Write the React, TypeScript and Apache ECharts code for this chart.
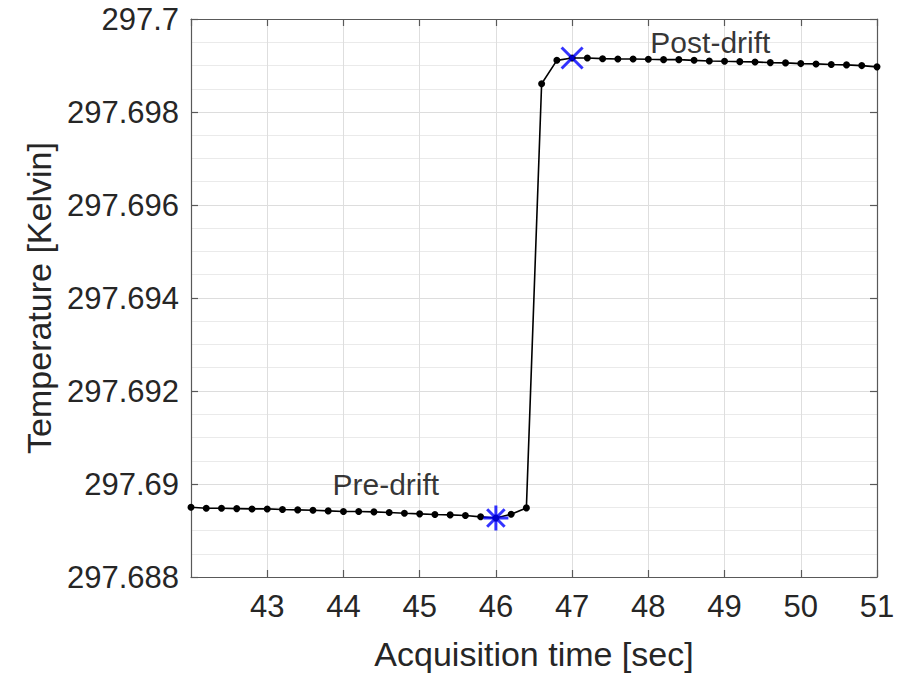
import React, { useEffect, useRef } from "react";
import * as echarts from "echarts";

// Acquisition time samples [sec]
const timeSec = [
  42.0, 42.2, 42.4, 42.6, 42.8, 43.0, 43.2, 43.4, 43.6, 43.8,
  44.0, 44.2, 44.4, 44.6, 44.8, 45.0, 45.2, 45.4, 45.6, 45.8,
  46.0, 46.2, 46.4, 46.6, 46.8, 47.0, 47.2, 47.4, 47.6, 47.8,
  48.0, 48.2, 48.4, 48.6, 48.8, 49.0, 49.2, 49.4, 49.6, 49.8,
  50.0, 50.2, 50.4, 50.6, 50.8, 51.0,
];

// Temperature readings [Kelvin]
const temperatureK = [
  297.689499, 297.689477, 297.689477, 297.689471, 297.689464, 297.689464, 297.68945, 297.689443, 297.689434, 297.689422,
  297.689407, 297.689407, 297.6894, 297.689386, 297.689371, 297.689358, 297.689343, 297.689336, 297.689322, 297.689294,
  297.689268, 297.68935, 297.689486, 297.698608, 297.699111, 297.699162, 297.699162, 297.699147, 297.699141, 297.699141,
  297.699133, 297.699126, 297.699126, 297.699111, 297.699098, 297.69909, 297.699083, 297.699077, 297.699062, 297.699056,
  297.699041, 297.699034, 297.69902, 297.699013, 297.698998, 297.698971,
];

// Indices of the highlighted samples
const preDriftIndex = 20;
const postDriftIndex = 25;

// Text annotations (data coordinates, left-aligned, vertically centred)
const annotationTexts = ["Pre-drift", "Post-drift"];
const annotationX = [43.85, 48.02];
const annotationY = [297.69, 297.6995];

const FONT = "'Liberation Sans', Arial, Helvetica, sans-serif";
const TEXT = "#262626";
const AXIS = "#595959";

const ASTERISK = "path://M10,0L10,20M0,10L20,10M3,3L17,17M3,17L17,3";
const CROSS = "path://M0,0L20,20M0,20L20,0";

export default function App() {
  const ref = useRef<HTMLDivElement>(null);

  useEffect(() => {
    if (!ref.current) return;
    const chart = echarts.init(ref.current, undefined, { renderer: "svg" });

    const lineData = timeSec.map((t, i) => [t, temperatureK[i]]);

    const xBase = {
      type: "value" as const,
      min: 42,
      max: 51,
      interval: 1,
      axisLine: { show: true, onZero: false, lineStyle: { color: AXIS, width: 1.2 } },
      axisTick: { show: true, inside: true, length: 7, lineStyle: { color: AXIS, width: 1.2 } },
    };
    const yBase = {
      type: "value" as const,
      min: 297.688,
      max: 297.7,
      interval: 0.002,
      axisLine: { show: true, onZero: false, lineStyle: { color: AXIS, width: 1.2 } },
      axisTick: { show: true, inside: true, length: 7, lineStyle: { color: AXIS, width: 1.2 } },
    };

    chart.setOption({
      animation: false,
      backgroundColor: "#ffffff",
      grid: { left: 191, right: 28, top: 19, bottom: 94, containLabel: false },
      xAxis: [
        {
          ...xBase,
          position: "bottom",
          name: "Acquisition time [sec]",
          nameLocation: "middle",
          nameGap: 60,
          nameTextStyle: { fontFamily: FONT, fontSize: 34, color: TEXT },
          axisLabel: {
            show: true,
            showMinLabel: false,
            margin: 14,
            fontFamily: FONT,
            fontSize: 31,
            color: TEXT,
          },
          splitLine: { show: true, lineStyle: { color: "#dedede", width: 1 } },
        },
        {
          ...xBase,
          position: "top",
          axisLabel: { show: false },
          splitLine: { show: false },
        },
      ],
      yAxis: [
        {
          ...yBase,
          position: "left",
          name: "Temperature [Kelvin]",
          nameLocation: "middle",
          nameGap: 132,
          nameTextStyle: { fontFamily: FONT, fontSize: 34, color: TEXT },
          axisLabel: {
            show: true,
            margin: 12,
            fontFamily: FONT,
            fontSize: 31,
            color: TEXT,
            formatter: (v: number) => String(parseFloat(v.toFixed(3))),
          },
          splitLine: { show: true, lineStyle: { color: "#dddddd", width: 1 } },
          minorTick: { show: false, splitNumber: 4 },
          minorSplitLine: { show: true, lineStyle: { color: "#eaeaea", width: 1 } },
        },
        {
          ...yBase,
          position: "right",
          axisLabel: { show: false },
          splitLine: { show: false },
        },
      ],
      series: [
        {
          type: "line",
          data: lineData,
          xAxisIndex: 0,
          yAxisIndex: 0,
          symbol: "circle",
          symbolSize: 7,
          showSymbol: true,
          lineStyle: { color: "#000000", width: 1.6 },
          itemStyle: { color: "#000000" },
          z: 3,
        },
        {
          type: "scatter",
          data: [[timeSec[preDriftIndex], temperatureK[preDriftIndex]]],
          symbol: ASTERISK,
          symbolSize: 25,
          itemStyle: { color: "transparent", borderColor: "#0000ff", borderWidth: 3 },
          z: 4,
        },
        {
          type: "scatter",
          data: [[timeSec[postDriftIndex], temperatureK[postDriftIndex]]],
          symbol: CROSS,
          symbolSize: 21,
          itemStyle: { color: "transparent", borderColor: "#0000ff", borderWidth: 3 },
          z: 4,
        },
        {
          type: "scatter",
          data: annotationTexts.map((t, i) => ({ value: [annotationX[i], annotationY[i]], name: t })),
          symbolSize: 1,
          itemStyle: { color: "transparent" },
          label: {
            show: true,
            position: "right",
            distance: 0,
            formatter: (p: any) => p.name,
            fontFamily: FONT,
            fontSize: 30,
            color: "#000000",
          },
          z: 5,
        },
      ],
    });

    return () => chart.dispose();
  }, []);

  return (
    <div
      ref={ref}
      style={{ position: "absolute", left: 0, top: 0, width: 905, height: 676, background: "#fff" }}
    />
  );
}
